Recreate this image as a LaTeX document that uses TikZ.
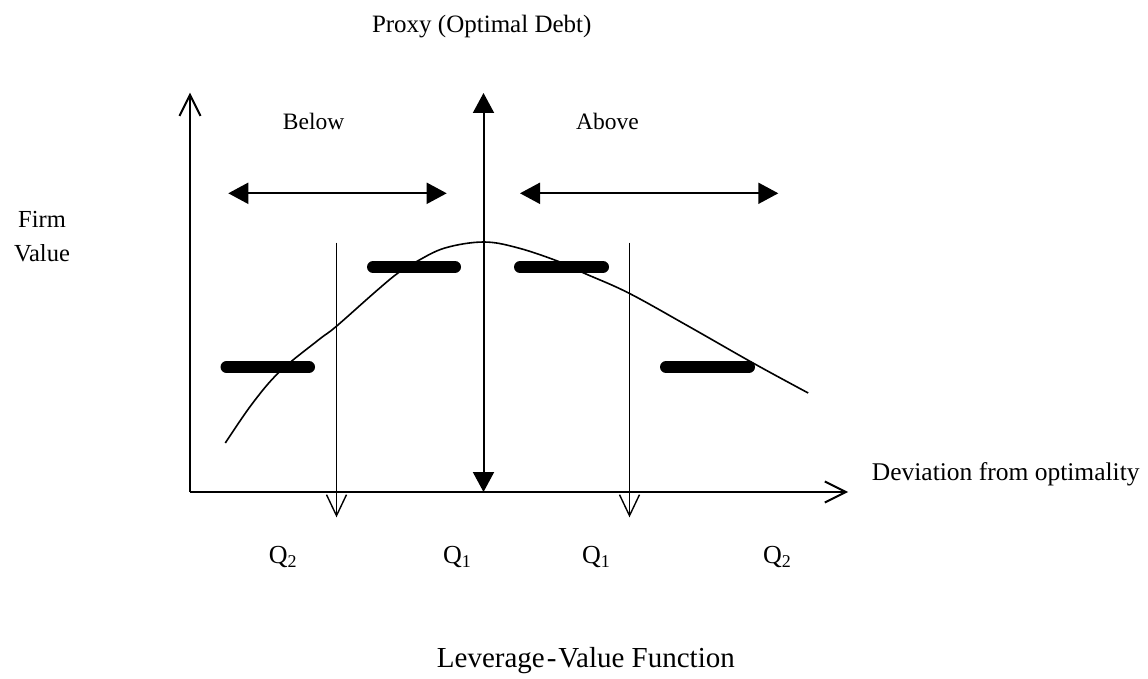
\documentclass[tikz,border=0pt]{standalone}
\usepackage{fontspec}
\setmainfont{Liberation Serif}
\usetikzlibrary{arrows.meta}
\newcommand{\fs}[1]{\fontsize{#1}{#1}\selectfont}
\newcommand{\Qsub}[1]{Q\raisebox{-4pt}{\fs{18}#1}}
\begin{document}
\begin{tikzpicture}[x=1pt,y=-1pt,
  axis/.style={line width=2pt,-{Straight Barb[length=21pt,width=21pt,line width=2pt]}},
  thinarr/.style={line width=1.4pt,-{Straight Barb[length=21pt,width=20pt,line width=1.4pt]}},
  dblarr/.style={line width=2pt,{Triangle[length=20pt,width=21pt]}-{Triangle[length=20pt,width=21pt]}},
  bar/.style={line width=12pt,line cap=round},
  curve/.style={line width=1.6pt},
  lbl/.style={inner sep=0pt,anchor=base west}]
\useasboundingbox (0,0) rectangle (1148,679);
% coordinates
\coordinate (O) at (190,492);
\coordinate (ytip) at (190,92.7);
\coordinate (xtip) at (848,492);
\coordinate (ctop) at (483.5,93);
\coordinate (cbot) at (483.5,492);
\coordinate (l1top) at (336.5,242.7);
\coordinate (l1bot) at (336.5,517.3);
\coordinate (l2top) at (629.5,242.7);
\coordinate (l2bot) at (629.5,517.3);
\coordinate (bl) at (228.3,193.3);
\coordinate (br) at (446.7,193.3);
\coordinate (al) at (520,193.3);
\coordinate (ar) at (778.3,193.3);
\coordinate (b1l) at (226.5,367); \coordinate (b1r) at (309,367);
\coordinate (b2l) at (373,267); \coordinate (b2r) at (455,267);
\coordinate (b3l) at (520,267); \coordinate (b3r) at (603,267);
\coordinate (b4l) at (666,367); \coordinate (b4r) at (749,367);
% axes
\draw[axis] (O) -- (ytip);
\draw[axis] (O) -- (xtip);
% center double arrow
\draw[dblarr] (cbot) -- (ctop);
% vertical lines
\draw[thinarr] (l1top) -- (l1bot);
\draw[thinarr] (l2top) -- (l2bot);
% below / above arrows
\draw[dblarr] (bl) -- (br);
\draw[dblarr] (al) -- (ar);
% bars
\draw[bar] (b1l) -- (b1r);
\draw[bar] (b2l) -- (b2r);
\draw[bar] (b3l) -- (b3r);
\draw[bar] (b4l) -- (b4r);
% curve
\draw[curve] plot[smooth,tension=0.6] coordinates {(225.3,443) (252,404) (279.6,371.7) (318.4,340) (335.9,326.7) (375.5,291.7) (398,273) (416.3,261.7) (444.9,248) (483.7,242) (518.4,248) (559.2,261.7) (583.7,273) (628.6,293) (689.8,327) (753,363) (808.2,393)};
% texts
\node[inner sep=0pt,anchor=base] (proxy) at (481.7,32.7) {\fs{25}Proxy (Optimal Debt)};
\node[lbl] (below) at (282.7,129.3) {\fs{23.5}Below};
\node[lbl] (above) at (576,129.3) {\fs{23.5}Above};
\node[inner sep=0pt,anchor=base] (firm) at (42,227) {\fs{24.5}Firm};
\node[inner sep=0pt,anchor=base] (value) at (42,261.7) {\fs{24.5}Value};
\node[lbl] (dev) at (871.7,480) {\fs{25.5}Deviation from optimality};
\node[lbl] (q2a) at (268.6,563) {\fs{26}\Qsub{2}};
\node[lbl] (q1a) at (442.8,563) {\fs{26}\Qsub{1}};
\node[lbl] (q1b) at (582,563) {\fs{26}\Qsub{1}};
\node[lbl] (q2b) at (763,563) {\fs{26}\Qsub{2}};
\node[lbl] (title) at (436.7,667.7) {\fs{29}Leverage\kern2pt-\kern2pt Value Function};
\end{tikzpicture}
\end{document}
